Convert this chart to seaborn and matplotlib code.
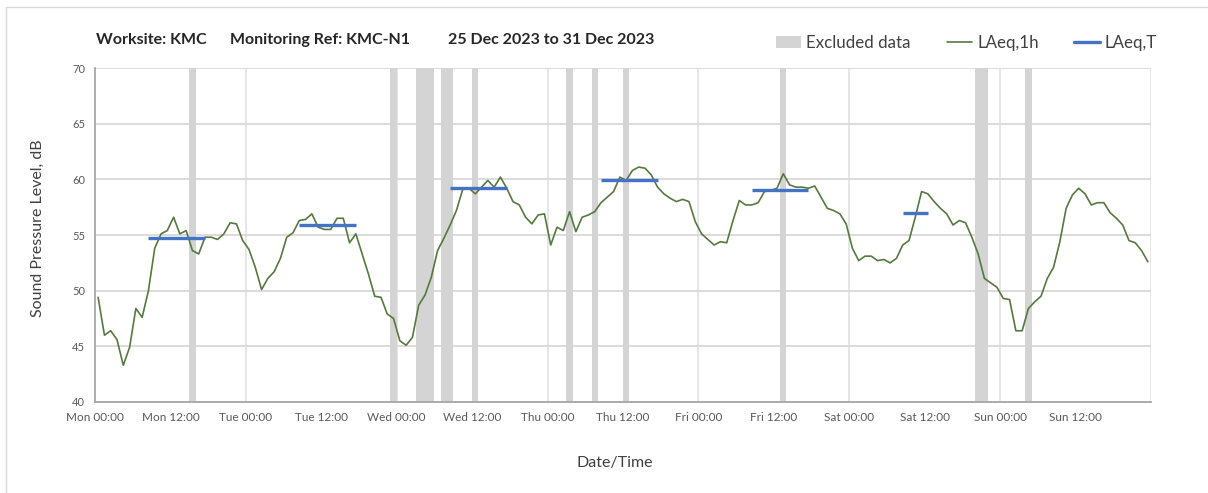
import numpy as np
import pandas as pd
import seaborn as sns
import matplotlib.pyplot as plt
from matplotlib.lines import Line2D
from matplotlib.patches import Patch

# LAeq,1h readings, one per hour, Mon 25 Dec 00:00 .. Sun 31 Dec 23:00
laeq_mon = [49.4, 46.0, 46.4, 45.6, 43.3, 44.9, 48.4, 47.6, 50.0, 53.8, 55.1, 55.4,
            56.6, 55.1, 55.4, 53.6, 53.3, 54.8, 54.8, 54.6, 55.1, 56.1, 56.0, 54.5]
laeq_tue = [53.7, 52.1, 50.1, 51.1, 51.7, 52.9, 54.8, 55.2, 56.3, 56.4, 56.9, 55.7,
            55.5, 55.5, 56.5, 56.5, 54.3, 55.1, 53.3, 51.5, 49.5, 49.4, 47.9, 47.5]
laeq_wed = [45.5, 45.1, 45.8, 48.7, 49.6, 51.2, 53.6, 54.7, 55.9, 57.2, 59.1, 59.2,
            58.7, 59.3, 59.9, 59.3, 60.2, 59.2, 58.0, 57.7, 56.6, 56.0, 56.8, 56.9]
laeq_thu = [54.1, 55.7, 55.4, 57.1, 55.3, 56.6, 56.8, 57.1, 57.9, 58.4, 58.9, 60.2,
            59.9, 60.8, 61.1, 61.0, 60.4, 59.3, 58.7, 58.3, 58.0, 58.2, 58.0, 56.2]
laeq_fri = [55.1, 54.6, 54.1, 54.4, 54.3, 56.3, 58.1, 57.7, 57.7, 57.9, 58.9, 59.0,
            59.2, 60.5, 59.5, 59.3, 59.3, 59.2, 59.4, 58.4, 57.4, 57.2, 56.9, 56.0]
laeq_sat = [53.8, 52.7, 53.1, 53.1, 52.7, 52.8, 52.5, 52.9, 54.1, 54.5, 56.6, 58.9,
            58.7, 58.0, 57.4, 56.9, 55.9, 56.3, 56.1, 54.8, 53.3, 51.1, 50.7, 50.3]
laeq_sun = [49.3, 49.2, 46.4, 46.4, 48.4, 49.0, 49.5, 51.1, 52.1, 54.4, 57.4, 58.6,
            59.2, 58.7, 57.7, 57.9, 57.9, 57.0, 56.5, 55.9, 54.5, 54.3, 53.6, 52.6]
laeq_1h = laeq_mon + laeq_tue + laeq_wed + laeq_thu + laeq_fri + laeq_sat + laeq_sun

# LAeq,T for each assessment period (first / last hour of the week)
period_first_hour = [8, 32, 56, 80, 104, 128]
period_last_hour = [17, 41, 65, 89, 113, 132]
laeq_t = [54.7, 55.9, 59.2, 59.9, 59.0, 57.0]

# hours flagged as excluded data
excluded_hours = [15, 47, 51, 52, 53, 55, 56, 60, 75, 79, 84, 109, 140, 141, 148]

tick_labels = ["Mon 00:00", "Mon 12:00", "Tue 00:00", "Tue 12:00", "Wed 00:00",
               "Wed 12:00", "Thu 00:00", "Thu 12:00", "Fri 00:00", "Fri 12:00",
               "Sat 00:00", "Sat 12:00", "Sun 00:00", "Sun 12:00", ""]

title_parts = ["Worksite: KMC", "Monitoring Ref: KMC-N1", "25 Dec 2023 to 31 Dec 2023"]

sns.set_style("white")
plt.rcParams["font.family"] = ["Lato", "DejaVu Sans"]

green = "#55793F"
blue = "#4472C4"
band = "#D4D4D4"
grey_txt = "#595959"
axis_col = "#A6A6A6"

fig = plt.figure(figsize=(12.08, 4.93), dpi=100)
ax = fig.add_axes([95 / 1208, 1 - 402 / 493, 1056 / 1208, 334 / 493])

# excluded data bands
ax.bar(excluded_hours, 30, bottom=40, width=1, align="edge", color=band,
       linewidth=0, zorder=1)

# hourly levels (points sit mid-hour)
df = pd.DataFrame({"hour": np.arange(len(laeq_1h)) + 0.5, "level": laeq_1h})
sns.lineplot(data=df, x="hour", y="level", ax=ax, color=green, linewidth=1.2,
             zorder=3, legend=False)

# period averages
ax.hlines(laeq_t, np.array(period_first_hour) + 0.5, np.array(period_last_hour) + 0.5,
          color=blue, linewidth=2.4, zorder=4)

ax.set_xlim(0, 168)
ax.set_ylim(40, 70)
ax.set_yticks(range(40, 71, 5))
ax.set_xticks(range(0, 169, 12))
ax.set_xticklabels(tick_labels)

ax.set_axisbelow(True)
ax.yaxis.grid(True, color="#D9D9D9", linewidth=1.3)
for d in range(24, 169, 24):
    ax.axvline(d, color="#E2E2E2", linewidth=1.2, zorder=0)

for s in ["top", "right"]:
    ax.spines[s].set_visible(False)
for s in ["left", "bottom"]:
    ax.spines[s].set_color(axis_col)
    ax.spines[s].set_linewidth(1.3)

ax.tick_params(axis="both", direction="out", length=4, width=1, color=axis_col,
               labelsize=8.5, labelcolor=grey_txt, pad=3)
ax.tick_params(axis="y", labelsize=8)

ax.set_xlabel("Date/Time", fontsize=11.5, color="#404040")
ax.set_ylabel("Sound Pressure Level, dB", fontsize=11.5, color="#404040")
ax.xaxis.set_label_coords(0.492, -0.163)
ax.yaxis.set_label_coords(-0.0475, 0.52)

# title pieces
for xpix, txt in zip([96, 230, 448], title_parts):
    fig.text(xpix / 1208, 1 - 40 / 493, txt, fontsize=11.5, fontweight="bold",
             color="#262626", va="center", ha="left")

handles = [Patch(facecolor=band, edgecolor="none"),
           Line2D([0], [0], color=green, linewidth=1.2),
           Line2D([0], [0], color=blue, linewidth=2.4)]
fig.legend(handles, ["Excluded data", "LAeq,1h", "LAeq,T"], loc="center left",
           bbox_to_anchor=(776 / 1208, 1 - 43 / 493), ncol=3, frameon=False,
           borderpad=0, borderaxespad=0, fontsize=12.2, handlelength=1.5,
           handletextpad=0.3, columnspacing=2.1, labelcolor="#404040")

# chart frame (only left and top edges are visible in the export)
fig.add_artist(Line2D([6 / 1208, 6 / 1208], [0, 1 - 7 / 493], color="#D9D9D9",
                      linewidth=1, transform=fig.transFigure))
fig.add_artist(Line2D([6 / 1208, 1], [1 - 7 / 493, 1 - 7 / 493], color="#D9D9D9",
                      linewidth=1, transform=fig.transFigure))

fig.savefig("out.png", dpi=100)
